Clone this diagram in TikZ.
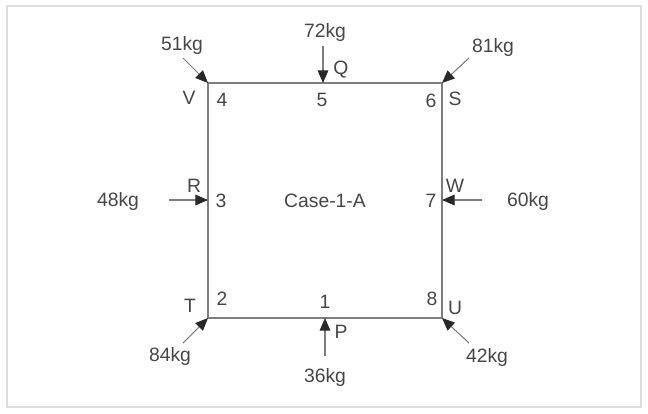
\documentclass[tikz,border=0pt]{standalone}
\usepackage{fontspec}
\setmainfont{Liberation Sans}
\usetikzlibrary{arrows.meta}
\definecolor{framegray}{RGB}{222,222,222}
\definecolor{linegray}{RGB}{125,125,125}
\definecolor{textgray}{RGB}{70,70,70}
\definecolor{tipgray}{RGB}{40,40,40}

\begin{document}
\begin{tikzpicture}[x=0.03cm, y=-0.03cm,
    lbl/.style={text=textgray, font=\fontsize{16.5}{19}\selectfont, inner sep=0pt},
    side/.style={draw=linegray, line width=1.2pt},
    force/.style={draw=linegray, line width=0.9pt,
                  -{Triangle[length=3.8mm, width=3.2mm, color=tipgray]}}
]
    \useasboundingbox (0,0) rectangle (648,413);
    \draw[framegray, line width=1.1pt] (7,6) rectangle (641,407);

    % corners and mid points of the frame
    \coordinate (p4) at (208,83);
    \coordinate (p5) at (323,83);
    \coordinate (p6) at (442,83);
    \coordinate (p3) at (208,200);
    \coordinate (p7) at (442,200);
    \coordinate (p2) at (208,318);
    \coordinate (p1) at (325,318);
    \coordinate (p8) at (442,318);

    \draw[side] (p4) -- (p6) -- (p8) -- (p2) -- cycle;

    % tails of the loads
    \coordinate (t4) at (183,58);
    \coordinate (t5) at (323,46);
    \coordinate (t6) at (469,58);
    \coordinate (t3) at (169,200);
    \coordinate (t7) at (482,200);
    \coordinate (t2) at (183,343);
    \coordinate (t1) at (325,356);
    \coordinate (t8) at (469,343);

    \draw[force] (t4) -- (p4);
    \draw[force] (t5) -- (p5);
    \draw[force] (t6) -- (p6);
    \draw[force] (t3) -- (p3);
    \draw[force] (t7) -- (p7);
    \draw[force] (t2) -- (p2);
    \draw[force] (t1) -- (p1);
    \draw[force] (t8) -- (p8);

    % loads
    \node[lbl] (w4) at (182,45) {51kg};
    \node[lbl] (w5) at (325,32) {72kg};
    \node[lbl] (w6) at (493,47) {81kg};
    \node[lbl] (w3) at (118,201) {48kg};
    \node[lbl] (w7) at (528,201) {60kg};
    \node[lbl] (w2) at (170,356) {84kg};
    \node[lbl] (w1) at (325,377) {36kg};
    \node[lbl] (w8) at (487,357) {42kg};

    % point letters
    \node[lbl] (V) at (189,98) {V};
    \node[lbl] (Q) at (341,70) {Q};
    \node[lbl] (S) at (455,99) {S};
    \node[lbl] (R) at (194,186) {R};
    \node[lbl] (W) at (455,186) {W};
    \node[lbl] (T) at (190,306) {T};
    \node[lbl] (P) at (341,332) {P};
    \node[lbl] (U) at (455,308) {U};

    % point numbers
    \node[lbl] (n4) at (222,100) {4};
    \node[lbl] (n5) at (322,100) {5};
    \node[lbl] (n6) at (431,101) {6};
    \node[lbl] (n3) at (221,201) {3};
    \node[lbl] (n7) at (431,201) {7};
    \node[lbl] (n2) at (222,299) {2};
    \node[lbl] (n1) at (325,302) {1};
    \node[lbl] (n8) at (432,299) {8};

    \node[lbl] (case) at (325,201) {Case-1-A};
\end{tikzpicture}
\end{document}
